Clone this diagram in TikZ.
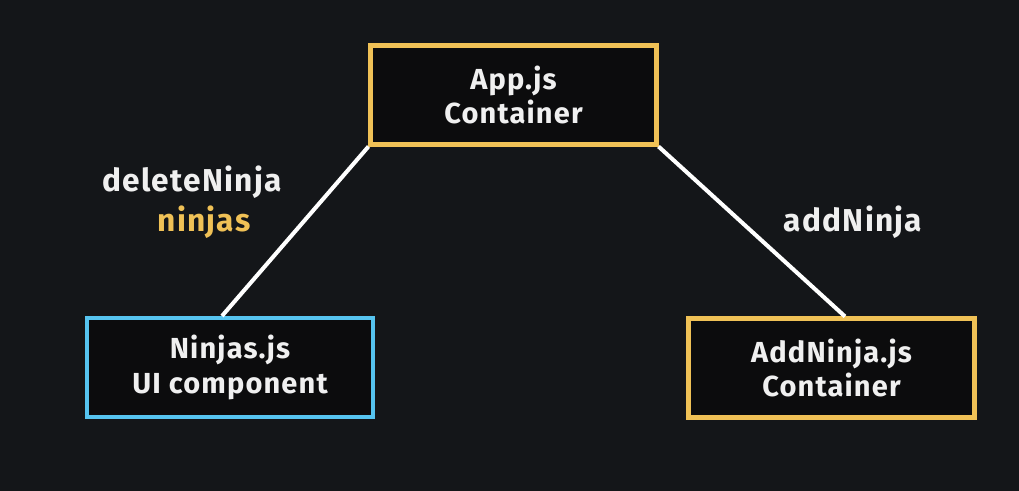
\documentclass[tikz,border=0pt]{standalone}
\usepackage{fontspec}
\setmainfont[LetterSpace=4]{Fira Sans}
\usepackage{tikz}
\usetikzlibrary{calc}
\definecolor{bgdark}{RGB}{20,22,25}
\definecolor{boxfill}{RGB}{12,12,13}
\definecolor{jsyellow}{RGB}{240,193,86}
\definecolor{uiblue}{RGB}{86,196,240}
\definecolor{labelwhite}{RGB}{240,240,240}
\tikzset{
  compbox/.style={draw=jsyellow, fill=boxfill, line width=2.3pt, minimum width=5.72cm, minimum height=1.98cm, align=center, text=labelwhite, font=\bfseries\fontsize{16.5}{19.5}\selectfont},
  uibox/.style={compbox, draw=uiblue},
  link/.style={draw=white, line width=2.3pt},
  proplabel/.style={text=labelwhite, font=\bfseries\fontsize{18}{20}\selectfont}
}
\begin{document}
\begin{tikzpicture}
\fill [bgdark] (0,0) rectangle (20.38,9.82);
\useasboundingbox (0,0) rectangle (20.38,9.82);
\node [compbox] (app) at (10.27,7.92) {App.js\\Container};
\node [uibox] (ninjas) at (4.60,2.47) {Ninjas.js\\UI component};
\node [compbox] (addninja) at (16.63,2.46) {AddNinja.js\\Container};
\draw [link] (app.south west) -- ($(ninjas.north)+(-0.16,0)$);
\draw [link] (app.south east) -- ($(addninja.north)+(0.27,0)$);
\node [proplabel] (delete) at (3.84,6.18) {deleteNinja};
\node [proplabel, text=jsyellow] (ninjaslist) at (4.08,5.38) {ninjas};
\node [proplabel] (add) at (17.06,5.38) {addNinja};
\end{tikzpicture}
\end{document}
